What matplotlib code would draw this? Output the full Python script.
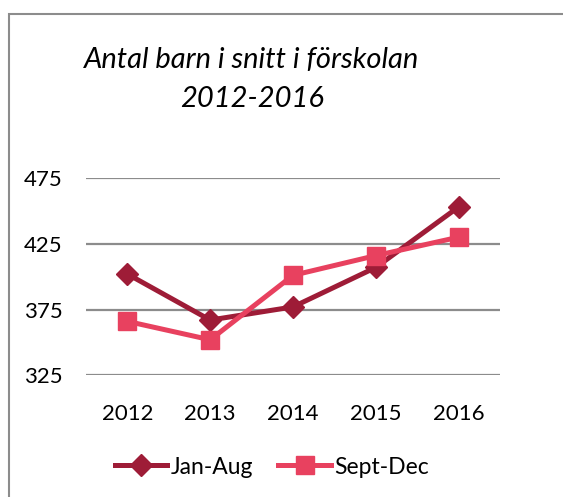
import matplotlib.pyplot as plt
import numpy as np
from matplotlib.patches import Rectangle

# Data
years = ['2012', '2013', '2014', '2015', '2016']
jan_aug = [402, 367, 377, 407, 453]
sept_dec = [366, 352, 401, 416, 430]
yticks = [325, 375, 425, 475]

W, H = 563, 497
fig = plt.figure(figsize=(W / 100, H / 100), dpi=100)
fig.patch.set_facecolor('white')

# chart frame (right and bottom edges fall outside the image)
fig.patches.append(Rectangle((9 / W, -0.1), 1.2, 1.1 - 13.5 / H,
                             transform=fig.transFigure, fill=False,
                             edgecolor='#8c8c8c', linewidth=1.5))

ax = fig.add_axes([86 / W, 1 - 375.3 / H, (500 - 86) / W, (375.3 - 178) / H])

x = np.arange(len(years))
ax.plot(x, jan_aug, color='#9e1c37', linewidth=3.6, marker='D', markersize=11,
        label='Jan-Aug', zorder=3)
ax.plot(x, sept_dec, color='#e8415f', linewidth=3.6, marker='s', markersize=13,
        label='Sept-Dec', zorder=3)

ax.set_xlim(-0.5, 4.5)
ax.set_ylim(325, 475)
ax.set_yticks(yticks)
ax.set_xticks(x)
ax.set_xticklabels(years)
ax.yaxis.grid(True, color='#8c8c8c', linewidth=1.6)
ax.set_axisbelow(True)
for s in ax.spines.values():
    s.set_visible(False)
ax.tick_params(axis='both', length=0, labelsize=16, colors='black')
ax.tick_params(axis='y', pad=17)
ax.tick_params(axis='x', pad=21)
for lab in ax.get_xticklabels() + ax.get_yticklabels():
    lab.set_fontfamily('Lato')

fig.text(252 / W, 1 - 60 / H, 'Antal barn i snitt i förskolan', ha='center', va='center',
         fontsize=21, style='italic', family='Lato')
fig.text(252 / W, 1 - 99 / H, '2012-2016', ha='center', va='center',
         fontsize=21, style='italic', family='Lato')

leg = fig.legend(loc='center', bbox_to_anchor=(272 / W, 1 - 467 / H), ncol=2,
                 frameon=False, prop={'family': 'Lato', 'size': 16.5},
                 handlelength=2.3, handletextpad=0.15, columnspacing=1.1)

fig.savefig('out.png', dpi=100)
